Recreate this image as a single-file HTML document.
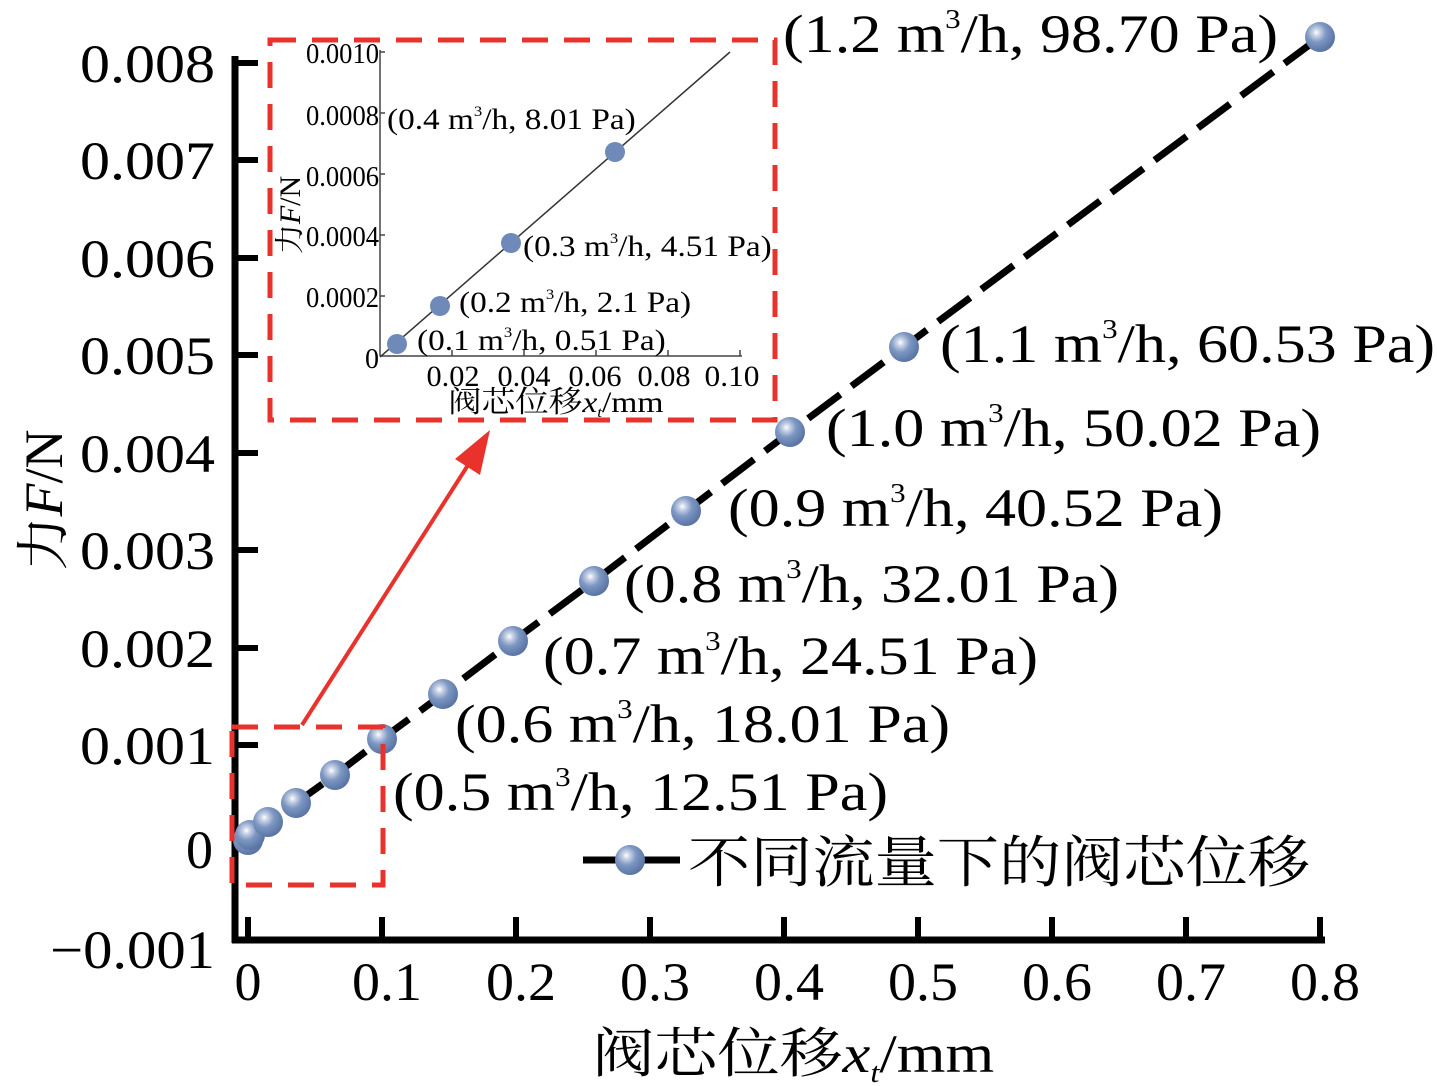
<!DOCTYPE html>
<html><head><meta charset="utf-8"><style>body{margin:0;background:#fff}svg{display:block}</style></head><body>
<svg width="1437" height="1086" viewBox="0 0 1437 1086" xmlns="http://www.w3.org/2000/svg" font-family="'Liberation Serif','Noto Serif CJK SC',serif">
<defs>
<radialGradient id="b" cx="0.38" cy="0.35" r="0.65">
<stop offset="0" stop-color="#fff"/><stop offset="0.18" stop-color="#c9d3e6"/><stop offset="0.5" stop-color="#7d97c2"/><stop offset="1" stop-color="#5a75a5"/>
</radialGradient>
</defs>
<g stroke="#000" stroke-width="7" fill="none">
<line x1="235" y1="56" x2="235" y2="943"/>
<line x1="232" y1="940" x2="1325" y2="940"/>
</g>
<g stroke="#000" stroke-width="6">
<line x1="235" y1="63" x2="258" y2="63"/><line x1="235" y1="160" x2="258" y2="160"/><line x1="235" y1="258" x2="258" y2="258"/><line x1="235" y1="355" x2="258" y2="355"/><line x1="235" y1="453" x2="258" y2="453"/><line x1="235" y1="550" x2="258" y2="550"/><line x1="235" y1="648" x2="258" y2="648"/><line x1="235" y1="745" x2="258" y2="745"/><line x1="235" y1="843" x2="258" y2="843"/>
<line x1="248" y1="917" x2="248" y2="940"/><line x1="382" y1="917" x2="382" y2="940"/><line x1="516" y1="917" x2="516" y2="940"/><line x1="650" y1="917" x2="650" y2="940"/><line x1="784" y1="917" x2="784" y2="940"/><line x1="918" y1="917" x2="918" y2="940"/><line x1="1052" y1="917" x2="1052" y2="940"/><line x1="1186" y1="917" x2="1186" y2="940"/><line x1="1320" y1="917" x2="1320" y2="940"/>
</g>
<g font-size="54" text-anchor="end" fill="#000">
<text x="215" y="82" textLength="135" lengthAdjust="spacingAndGlyphs">0.008</text><text x="215" y="179" textLength="135" lengthAdjust="spacingAndGlyphs">0.007</text><text x="215" y="277" textLength="135" lengthAdjust="spacingAndGlyphs">0.006</text><text x="215" y="374" textLength="135" lengthAdjust="spacingAndGlyphs">0.005</text><text x="215" y="472" textLength="135" lengthAdjust="spacingAndGlyphs">0.004</text><text x="215" y="569" textLength="135" lengthAdjust="spacingAndGlyphs">0.003</text><text x="215" y="667" textLength="135" lengthAdjust="spacingAndGlyphs">0.002</text><text x="215" y="764" textLength="135" lengthAdjust="spacingAndGlyphs">0.001</text><text x="213" y="868">0</text><text x="215" y="968" textLength="165" lengthAdjust="spacingAndGlyphs">−0.001</text>
</g>
<g font-size="54" text-anchor="middle">
<text x="248" y="1000">0</text><text x="387" y="1000" textLength="70" lengthAdjust="spacingAndGlyphs">0.1</text><text x="521" y="1000" textLength="70" lengthAdjust="spacingAndGlyphs">0.2</text><text x="655" y="1000" textLength="70" lengthAdjust="spacingAndGlyphs">0.3</text><text x="789" y="1000" textLength="70" lengthAdjust="spacingAndGlyphs">0.4</text><text x="923" y="1000" textLength="70" lengthAdjust="spacingAndGlyphs">0.5</text><text x="1057" y="1000" textLength="70" lengthAdjust="spacingAndGlyphs">0.6</text><text x="1191" y="1000" textLength="70" lengthAdjust="spacingAndGlyphs">0.7</text><text x="1325" y="1000" textLength="70" lengthAdjust="spacingAndGlyphs">0.8</text>
</g>
<g transform="translate(592,0) scale(1.16,1)"><text x="0" y="1072" font-size="54">阀芯位移<tspan font-style="italic">x</tspan><tspan font-style="italic" font-size="28" dy="10">t</tspan><tspan dy="-10">/mm</tspan></text></g>
<text transform="translate(62,500) rotate(-90)" font-size="54" text-anchor="middle">力<tspan font-style="italic">F</tspan>/N</text>
<polyline points="248,840 250,835 268,822 296,803 335,775 382,739 443,694 513,641 594,581 686,511 790,432 904,347 1320,37" fill="none" stroke="#000" stroke-width="7" stroke-dasharray="40,14"/>
<g fill="url(#b)">
<circle cx="248" cy="840" r="15"/><circle cx="250" cy="835" r="15"/><circle cx="268" cy="822" r="15"/><circle cx="296" cy="803" r="15"/><circle cx="335" cy="775" r="15"/><circle cx="382" cy="739" r="15"/><circle cx="443" cy="694" r="15"/><circle cx="513" cy="641" r="15"/><circle cx="594" cy="581" r="15"/><circle cx="686" cy="511" r="15"/><circle cx="790" cy="432" r="15"/><circle cx="904" cy="347" r="15"/><circle cx="1320" cy="37" r="15"/>
</g>
<g font-size="54">
<g transform="translate(783,52) scale(1.15,1)"><text>(1.2 m<tspan font-size="27" dy="-24">3</tspan><tspan dy="24">/h, 98.70 Pa)</tspan></text></g>
<g transform="translate(940,362) scale(1.15,1)"><text>(1.1 m<tspan font-size="27" dy="-24">3</tspan><tspan dy="24">/h, 60.53 Pa)</tspan></text></g>
<g transform="translate(826,446) scale(1.15,1)"><text>(1.0 m<tspan font-size="27" dy="-24">3</tspan><tspan dy="24">/h, 50.02 Pa)</tspan></text></g>
<g transform="translate(728,526) scale(1.15,1)"><text>(0.9 m<tspan font-size="27" dy="-24">3</tspan><tspan dy="24">/h, 40.52 Pa)</tspan></text></g>
<g transform="translate(624,602) scale(1.15,1)"><text>(0.8 m<tspan font-size="27" dy="-24">3</tspan><tspan dy="24">/h, 32.01 Pa)</tspan></text></g>
<g transform="translate(543,674) scale(1.15,1)"><text>(0.7 m<tspan font-size="27" dy="-24">3</tspan><tspan dy="24">/h, 24.51 Pa)</tspan></text></g>
<g transform="translate(455,742) scale(1.15,1)"><text>(0.6 m<tspan font-size="27" dy="-24">3</tspan><tspan dy="24">/h, 18.01 Pa)</tspan></text></g>
<g transform="translate(393,810) scale(1.15,1)"><text>(0.5 m<tspan font-size="27" dy="-24">3</tspan><tspan dy="24">/h, 12.51 Pa)</tspan></text></g>
</g>
<line x1="583" y1="860" x2="680" y2="860" stroke="#000" stroke-width="7"/>
<circle cx="630" cy="860" r="15" fill="url(#b)"/>
<text x="688" y="882" font-size="56" font-family="'Noto Serif CJK SC',serif" textLength="622" lengthAdjust="spacingAndGlyphs">不同流量下的阀芯位移</text>
<g fill="none" stroke="#e8322b" stroke-width="5" stroke-dasharray="26,16">
<rect x="270" y="40" width="505" height="380"/>
<rect x="232" y="727" width="151" height="158"/>
</g>
<line x1="302" y1="725" x2="470" y2="462" stroke="#e8322b" stroke-width="4"/>
<polygon points="490,430 480,475 455,459" fill="#e8322b"/>
<g stroke="#444" stroke-width="1.5" fill="none">
<line x1="380" y1="50" x2="380" y2="356"/><line x1="380" y1="356" x2="742" y2="356"/>
</g>
<g stroke="#444" stroke-width="1.5">
<line x1="380" y1="52" x2="385" y2="52"/><line x1="380" y1="113" x2="385" y2="113"/><line x1="380" y1="174" x2="385" y2="174"/><line x1="380" y1="235" x2="385" y2="235"/><line x1="380" y1="296" x2="385" y2="296"/>
<line x1="452" y1="350" x2="452" y2="356"/><line x1="524" y1="350" x2="524" y2="356"/><line x1="596" y1="350" x2="596" y2="356"/><line x1="668" y1="350" x2="668" y2="356"/><line x1="740" y1="350" x2="740" y2="356"/>
</g>
<g font-size="28" text-anchor="end">
<text x="379" y="63" textLength="73" lengthAdjust="spacingAndGlyphs">0.0010</text><text x="379" y="125" textLength="73" lengthAdjust="spacingAndGlyphs">0.0008</text><text x="379" y="186" textLength="73" lengthAdjust="spacingAndGlyphs">0.0006</text><text x="379" y="246" textLength="73" lengthAdjust="spacingAndGlyphs">0.0004</text><text x="379" y="307" textLength="73" lengthAdjust="spacingAndGlyphs">0.0002</text><text x="379" y="368">0</text>
</g>
<g font-size="30" text-anchor="middle">
<text x="453" y="386" textLength="53" lengthAdjust="spacingAndGlyphs">0.02</text><text x="524" y="386" textLength="53" lengthAdjust="spacingAndGlyphs">0.04</text><text x="595" y="386" textLength="53" lengthAdjust="spacingAndGlyphs">0.06</text><text x="664" y="386" textLength="53" lengthAdjust="spacingAndGlyphs">0.08</text><text x="732" y="386" textLength="55" lengthAdjust="spacingAndGlyphs">0.10</text>
</g>
<g transform="translate(448,412) scale(1.12,1)"><text x="0" y="0" font-size="30">阀芯位移<tspan font-style="italic">x</tspan><tspan font-style="italic" font-size="15" dy="5">t</tspan><tspan dy="-5">/mm</tspan></text></g>
<text transform="translate(300,215) rotate(-90)" font-size="30" text-anchor="middle">力<tspan font-style="italic">F</tspan>/N</text>
<line x1="380" y1="357" x2="730" y2="52" stroke="#333" stroke-width="1.5"/>
<g fill="#6f8ab8"><circle cx="397" cy="344" r="10"/><circle cx="440" cy="306" r="10"/><circle cx="511" cy="243" r="10"/><circle cx="615" cy="152" r="10"/></g>
<g font-size="30">
<g transform="translate(387,129) scale(1.11,1)"><text>(0.4 m<tspan font-size="15" dy="-13">3</tspan><tspan dy="13">/h, 8.01 Pa)</tspan></text></g>
<g transform="translate(523,256) scale(1.11,1)"><text>(0.3 m<tspan font-size="15" dy="-13">3</tspan><tspan dy="13">/h, 4.51 Pa)</tspan></text></g>
<g transform="translate(459,312) scale(1.11,1)"><text>(0.2 m<tspan font-size="15" dy="-13">3</tspan><tspan dy="13">/h, 2.1 Pa)</tspan></text></g>
<g transform="translate(417,350) scale(1.11,1)"><text>(0.1 m<tspan font-size="15" dy="-13">3</tspan><tspan dy="13">/h, 0.51 Pa)</tspan></text></g>
</g>
</svg>
</body></html>
